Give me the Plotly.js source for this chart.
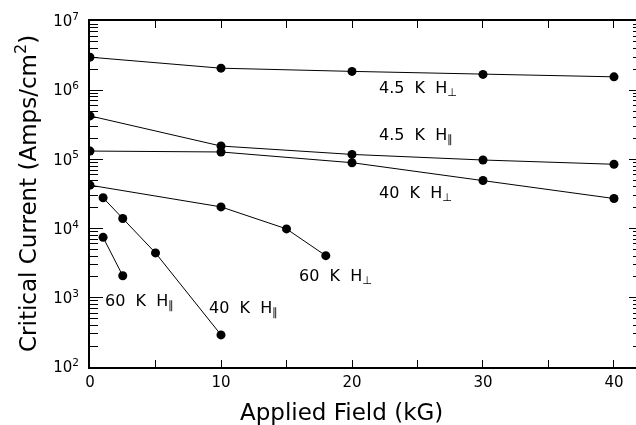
<!DOCTYPE html>
<html>
<head>
<meta charset="utf-8">
<script src="https://cdn.plot.ly/plotly-3.0.1.min.js"></script>
<style>html,body{margin:0;padding:0;background:#fff;}#chart{width:636px;height:425px;filter:grayscale(1);}</style>
</head>
<body>
<div id="chart"></div>
<script>
// Applied field (kG) and critical current (A/cm^2) per series
const field_45K_perp = [0, 10, 20, 30, 40];
const jc_45K_perp = [3.0e6, 2.08e6, 1.87e6, 1.69e6, 1.56e6];

const field_45K_par = [0, 10, 20, 30, 40];
const jc_45K_par = [4.25e5, 1.56e5, 1.18e5, 9.8e4, 8.5e4];

const field_40K_perp = [0, 10, 20, 30, 40];
const jc_40K_perp = [1.32e5, 1.28e5, 8.96e4, 4.96e4, 2.72e4];

const field_60K_perp = [0, 10, 15, 18];
const jc_60K_perp = [4.24e4, 2.06e4, 9.9e3, 4.06e3];

const field_40K_par = [1, 2.5, 5, 10];
const jc_40K_par = [2.79e4, 1.40e4, 4.45e3, 291];

const field_60K_par = [1, 2.5];
const jc_60K_par = [7.48e3, 2.08e3];

const xTicks = [0, 5, 10, 15, 20, 25, 30, 35, 40];
const xTickText = ['0', '', '10', '', '20', '', '30', '', '40'];
const yTicks = [1e2, 1e3, 1e4, 1e5, 1e6, 1e7];
const yTickText = ['10<sup>2</sup>', '10<sup>3</sup>', '10<sup>4</sup>', '10<sup>5</sup>', '10<sup>6</sup>', '10<sup>7</sup>'];
const yMinorMantissas = [2, 3, 4, 5, 6, 7, 8, 9];

// Label text and anchor (field kG, log10 current)
const labelBase = ['4.5 K H', '4.5 K H', '40 K H', '60 K H', '60 K H', '40 K H'];
const labelSub = ['⊥', '∥', '⊥', '⊥', '∥', '∥'];
const labelX = [21.9, 21.9, 21.9, 15.8, 1.0, 8.93];
const labelY = [6.03, 5.35, 4.51, 3.31, 2.94, 2.85];

const FONT = 'DejaVu Sans, Verdana, sans-serif';
const yMinorTicks = [];
yTicks.slice(0, -1).forEach(d => yMinorMantissas.forEach(m => yMinorTicks.push(d * m)));

const series = [
  [field_45K_perp, jc_45K_perp],
  [field_45K_par, jc_45K_par],
  [field_40K_perp, jc_40K_perp],
  [field_60K_perp, jc_60K_perp],
  [field_40K_par, jc_40K_par],
  [field_60K_par, jc_60K_par]
];
const traces = series.map(s => ({
  x: s[0], y: s[1], type: 'scatter', mode: 'lines+markers',
  line: {color: '#000', width: 1},
  marker: {color: '#000', size: 9},
  showlegend: false, hoverinfo: 'skip'
}));
// invisible copies so that the tick-only overlay axes get drawn
['y2', 'y3', 'y4'].forEach(ax => traces.push({
  x: field_45K_perp, y: jc_45K_perp, yaxis: ax, type: 'scatter', mode: 'markers',
  marker: {opacity: 0}, showlegend: false, hoverinfo: 'skip'
}));

const sp = s => s.split(' ').join('\u00a0\u00a0');
const annotations = labelBase.map((t, i) => ({
  x: labelX[i], y: labelY[i], xref: 'x', yref: 'y',
  text: sp(t) + '<sub>' + labelSub[i] + '</sub>',
  showarrow: false, xanchor: 'left', yanchor: 'middle',
  font: {family: FONT, size: 16, color: '#000'}
}));
annotations.push({
  x: (341 - 90) / 546, y: -(412 - 367) / 346, xref: 'paper', yref: 'paper', text: 'Applied Field (kG)',
  showarrow: false, xanchor: 'center', yanchor: 'middle',
  font: {family: FONT, size: 23, color: '#000'}
});
annotations.push({
  x: -(90 - 26) / 546, y: 0.5, xref: 'paper', yref: 'paper', text: 'Critical Current (Amps/cm<sup>2</sup>)',
  showarrow: false, xanchor: 'center', yanchor: 'middle', textangle: -90,
  font: {family: FONT, size: 23, color: '#000'}
});

const tickAxis = (side, vals, len) => ({
  type: 'log', range: [2, 7], overlaying: 'y', side: side,
  tickmode: 'array', tickvals: vals, showticklabels: false,
  ticks: 'inside', ticklen: len, tickwidth: 1, tickcolor: '#000',
  showline: false, showgrid: false, zeroline: false
});

const layout = {
  width: 636, height: 425,
  margin: {l: 90, r: 0, t: 21, b: 58},
  paper_bgcolor: '#fff', plot_bgcolor: '#fff',
  font: {family: FONT, color: '#000'},
  xaxis: {
    range: [0, 41.68], tickmode: 'array', tickvals: xTicks, ticktext: xTickText,
    ticks: 'inside', ticklen: 7, tickwidth: 1, tickcolor: '#000',
    showline: true, linewidth: 2, linecolor: '#000', mirror: 'ticks',
    showgrid: false, zeroline: false,
    tickfont: {family: FONT, size: 15, color: '#000'}
  },
  yaxis: {
    type: 'log', range: [2, 7], tickmode: 'array', tickvals: yTicks, ticktext: yTickText,
    ticks: 'inside', ticklen: 13, tickwidth: 1, tickcolor: '#000',
    showline: true, linewidth: 2, linecolor: '#000',
    showgrid: false, zeroline: false, ticklabelstandoff: 6,
    tickfont: {family: FONT, size: 15, color: '#000'}
  },
  yaxis2: tickAxis('left', yMinorTicks, 8),
  yaxis3: tickAxis('right', yTicks, 7),
  yaxis4: tickAxis('right', yMinorTicks, 3),
  annotations: annotations
};

Plotly.newPlot('chart', traces, layout, {displayModeBar: false, staticPlot: true});
</script>
</body>
</html>
